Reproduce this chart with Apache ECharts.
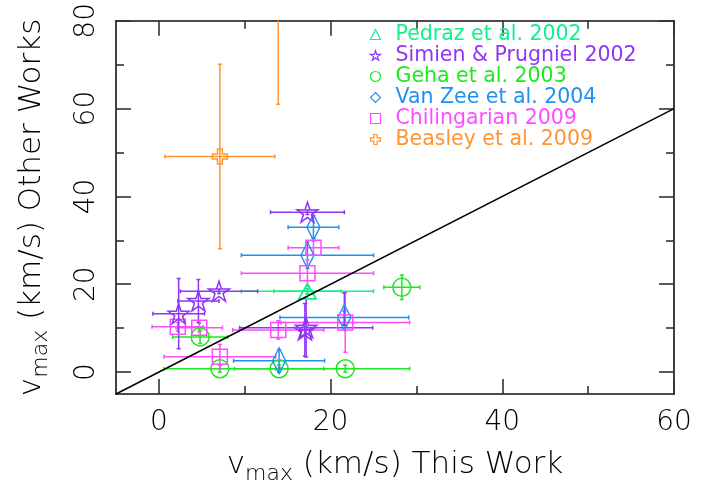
<!DOCTYPE html>
<html>
<head>
<meta charset="utf-8">
<script src="https://cdn.jsdelivr.net/npm/echarts@6/dist/echarts.min.js"></script>
<style>
  html, body { margin: 0; padding: 0; background: #ffffff; }
  #chart { width: 717px; height: 490px; }
</style>
</head>
<body>
<div id="chart"></div>
<script>
// Axis ranges and tick positions (km/s)
const xRange = [-5, 60];
const yRange = [-5, 80];
const xMajorTicks = [0, 20, 40, 60];
const xMinorTicks = [10, 30, 50];
const yMajorTicks = [0, 20, 40, 60, 80];
const yMinorTicks = [10, 30, 50, 70];

// Each row: [v_max this work, error, v_max other work, error]
const pedraz = [
  [17.3, 7.7, 18.4, 0.6],
  [17.3, 3.9, 18.4, 0.6]
];
const simien = [
  [2.3, 3.0, 13.3, 8.0],
  [4.6, 2.4, 16.2, 4.9],
  [7.0, 4.5, 18.4, 0.5],
  [17.3, 4.3, 36.4, 0.5],
  [17.15, 7.75, 10.1, 6.7],
  [17.0, 0.6, 9.6, 6.0]
];
// Simien & Prugniel entry whose marker sits under the Van Zee / Chilingarian symbols
const simienBarsOnly = [
  [21.6, 0, 14.3, 3.7]
];
const geha = [
  [4.8, 3.2, 8.0, 1.5],
  [7.1, 6.5, 0.75, 0.8],
  [14.0, 5.2, 0.75, 0.8],
  [21.7, 7.5, 0.75, 0.8],
  [28.3, 2.1, 19.3, 2.8]
];
const vanZee = [
  [18.0, 2.95, 33.0, 2.6],
  [17.3, 7.7, 26.6, 3.0],
  [21.6, 7.5, 12.4, 1.5],
  [14.0, 5.3, 2.6, 2.5]
];
const chilingarian = [
  [2.2, 3.0, 10.3, 1.0],
  [4.7, 2.7, 10.1, 1.0],
  [7.1, 6.5, 3.5, 2.8],
  [13.9, 5.3, 9.6, 2.1],
  [21.7, 7.5, 11.3, 6.8],
  [17.3, 7.7, 22.5, 3.0],
  [18.0, 2.95, 28.3, 1.5]
];
const beasley = [
  [7.1, 6.4, 49.1, 21.0],
  [13.9, 3.0, 85.0, 24.0]
];

const legendNames = [
  'Pedraz et al. 2002',
  'Simien & Prugniel 2002',
  'Geha et al. 2003',
  'Van Zee et al. 2004',
  'Chilingarian 2009',
  'Beasley et al. 2009'
];

const COLORS = {
  pedraz: '#10f08c',
  simien: '#8f35f5',
  geha: '#1ee81e',
  vanZee: '#1e90f5',
  chilingarian: '#ff4cff',
  beasley: '#ff9430'
};

const FONT = "'DejaVu Sans', 'Liberation Sans', sans-serif";
const WEIGHT = 300;
const TEXT = '#000000';

// five-pointed outline star
function starPath() {
  let d = '';
  for (let i = 0; i < 10; i++) {
    const a = -Math.PI / 2 + i * Math.PI / 5;
    const r = i % 2 ? 19 : 50;
    d += (i ? 'L' : 'M') + (50 + r * Math.cos(a)).toFixed(2) + ',' + (50 + r * Math.sin(a)).toFixed(2);
  }
  return 'path://' + d + 'Z';
}
const STAR = starPath();
const CROSS = 'path://M34,0L66,0L66,34L100,34L100,66L66,66L66,100L34,100L34,66L0,66L0,34L34,34Z';

// error bars with short end caps
function errorBars(name, rows, color) {
  return {
    type: 'custom',
    name: name,
    data: rows,
    dimensions: ['x', 'dx', 'y', 'dy'],
    encode: { x: 0, y: 2 },
    clip: true,
    silent: true,
    renderItem: function (params, api) {
      const x = api.value(0), dx = api.value(1), y = api.value(2), dy = api.value(3);
      const style = { stroke: color, lineWidth: 1.5, fill: null };
      const cap = 2;
      const kids = [];
      if (dx > 0) {
        const l = api.coord([x - dx, y]), r = api.coord([x + dx, y]);
        kids.push({ type: 'line', shape: { x1: l[0], y1: l[1], x2: r[0], y2: r[1] }, style: style });
        kids.push({ type: 'line', shape: { x1: l[0], y1: l[1] - cap, x2: l[0], y2: l[1] + cap }, style: style });
        kids.push({ type: 'line', shape: { x1: r[0], y1: r[1] - cap, x2: r[0], y2: r[1] + cap }, style: style });
      }
      if (dy > 0) {
        const t = api.coord([x, y + dy]), b = api.coord([x, y - dy]);
        kids.push({ type: 'line', shape: { x1: t[0], y1: t[1], x2: b[0], y2: b[1] }, style: style });
        kids.push({ type: 'line', shape: { x1: t[0] - cap, y1: t[1], x2: t[0] + cap, y2: t[1] }, style: style });
        kids.push({ type: 'line', shape: { x1: b[0] - cap, y1: b[1], x2: b[0] + cap, y2: b[1] }, style: style });
      }
      return { type: 'group', children: kids };
    }
  };
}

function markers(name, rows, color, symbol, size) {
  return {
    type: 'scatter',
    name: name,
    data: rows.map(function (r) { return [r[0], r[2]]; }),
    symbol: symbol,
    symbolSize: size,
    symbolKeepAspect: true,
    clip: true,
    silent: true,
    itemStyle: { color: 'none', borderColor: color, borderWidth: 1.5, opacity: 1 }
  };
}

function frameAxis(pos, values, len, labels, range) {
  return {
    type: 'value',
    position: pos,
    min: range[0],
    max: range[1],
    axisLine: { show: labels !== null, onZero: false, lineStyle: { color: '#111', width: 1.6 } },
    axisTick: { show: true, inside: true, length: len, customValues: values, lineStyle: { color: '#333', width: 1.6 } },
    axisLabel: labels ? labels : { show: false },
    splitLine: { show: false }
  };
}

const xLabel = {
  show: true, customValues: xMajorTicks, margin: 15,
  fontFamily: FONT, fontWeight: WEIGHT, fontSize: 28, color: TEXT
};
const yLabel = {
  show: true, customValues: yMajorTicks, margin: 15, rotate: 90,
  fontFamily: FONT, fontWeight: WEIGHT, fontSize: 28, color: TEXT
};

const titleRich = {
  v: { fontFamily: FONT, fontWeight: WEIGHT, fontSize: 31, color: TEXT },
  sub: { fontFamily: FONT, fontWeight: WEIGHT, fontSize: 22, color: TEXT, padding: [18, 0, 0, 0] },
  t: { fontFamily: FONT, fontWeight: WEIGHT, fontSize: 31, color: TEXT }
};

const xAxes = [
  Object.assign(frameAxis('bottom', xMajorTicks, 15, xLabel, xRange), {
    name: '{v|v}{sub|max}{t| (km/s) This Work}',
    nameLocation: 'middle', nameGap: 51,
    nameTextStyle: { rich: titleRich }
  }),
  frameAxis('bottom', xMinorTicks, 8, null, xRange),
  frameAxis('top', xMajorTicks, 15, false, xRange),
  frameAxis('top', xMinorTicks, 8, null, xRange)
];
xAxes[2].axisLine.show = true;
const yAxes = [
  Object.assign(frameAxis('left', yMajorTicks, 15, yLabel, yRange), {
    name: '{v|v}{sub|max}{t| (km/s) Other Works}',
    nameLocation: 'middle', nameGap: 64, nameRotate: 90,
    nameTextStyle: { rich: titleRich }
  }),
  frameAxis('left', yMinorTicks, 8, null, yRange),
  frameAxis('right', yMajorTicks, 15, false, yRange),
  frameAxis('right', yMinorTicks, 8, null, yRange)
];
yAxes[2].axisLine.show = true;

const series = [
  errorBars('Pedraz bars', pedraz, COLORS.pedraz),
  markers(legendNames[0], pedraz, COLORS.pedraz, 'triangle', [17, 15]),
  errorBars('Geha bars', geha, COLORS.geha),
  markers(legendNames[2], geha, COLORS.geha, 'circle', 18),
  errorBars('Van Zee bars', vanZee, COLORS.vanZee),
  markers(legendNames[3], vanZee, COLORS.vanZee, 'diamond', [13, 26]),
  errorBars('Chilingarian bars', chilingarian, COLORS.chilingarian),
  markers(legendNames[4], chilingarian, COLORS.chilingarian, 'rect', 15),
  errorBars('Simien bars', simien.concat(simienBarsOnly), COLORS.simien),
  markers(legendNames[1], simien, COLORS.simien, STAR, 21),
  errorBars('Beasley bars', beasley, COLORS.beasley),
  markers(legendNames[5], beasley, COLORS.beasley, CROSS, 15),
  {
    // one-to-one relation across the full axis range
    type: 'line',
    name: 'one-to-one',
    data: [[xRange[0], xRange[0]], [xRange[1], xRange[1]]],
    showSymbol: false,
    symbol: 'none',
    silent: true,
    clip: true,
    lineStyle: { color: '#000', width: 1.5 }
  }
];

const colorList = [COLORS.pedraz, COLORS.simien, COLORS.geha, COLORS.vanZee, COLORS.chilingarian, COLORS.beasley];

const chart = echarts.init(document.getElementById('chart'), null, { renderer: 'canvas' });
chart.setOption({
  animation: false,
  backgroundColor: '#ffffff',
  grid: { left: 116, right: 43, top: 20, bottom: 93, containLabel: false },
  xAxis: xAxes,
  yAxis: yAxes,
  legend: {
    orient: 'vertical',
    left: 363,
    top: 19,
    itemWidth: 10,
    itemHeight: 10,
    itemGap: 0,
    selectedMode: false,
    data: legendNames.map(function (n, i) {
      return { name: n, textStyle: { color: colorList[i] } };
    }),
    itemStyle: { borderWidth: 1.2 },
    textStyle: { fontFamily: FONT, fontWeight: 'normal', fontSize: 20.5, lineHeight: 17, padding: [0, 0, 0, 10] }
  },
  series: series
});
</script>
</body>
</html>
